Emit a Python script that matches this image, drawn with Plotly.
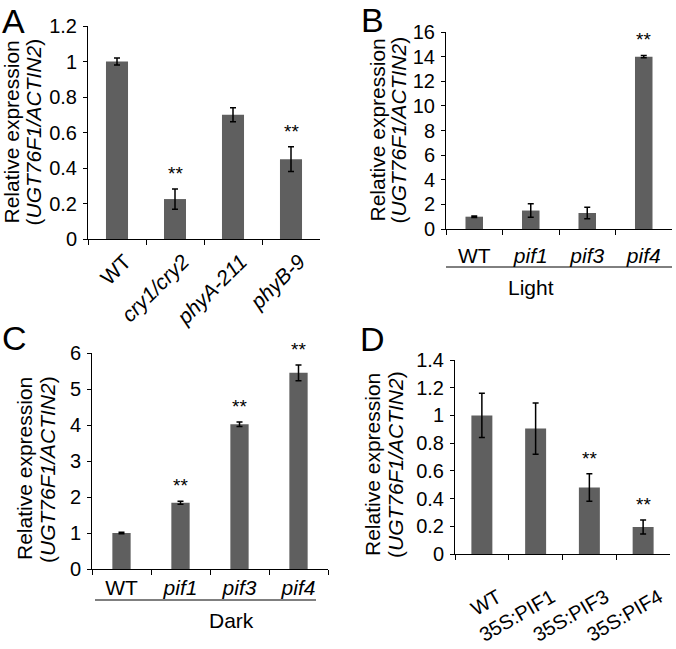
import plotly.graph_objects as go

# ---------------- data ----------------
A_cats = ["WT", "cry1/cry2", "phyA-211", "phyB-9"]
A_italic = [False, True, True, True]
A_vals = [1.0, 0.225, 0.70, 0.45]
A_err = [0.02, 0.057, 0.04, 0.07]
A_sig = ["", "**", "", "**"]

B_cats = ["WT", "pif1", "pif3", "pif4"]
B_italic = [False, True, True, True]
B_vals = [1.0, 1.5, 1.3, 14.0]
B_err = [0.06, 0.55, 0.47, 0.1]
B_sig = ["", "", "", "**"]

C_cats = ["WT", "pif1", "pif3", "pif4"]
C_italic = [False, True, True, True]
C_vals = [1.0, 1.84, 4.02, 5.45]
C_err = [0.02, 0.04, 0.06, 0.22]
C_sig = ["", "**", "**", "**"]

D_cats = ["WT", "35S:PIF1", "35S:PIF3", "35S:PIF4"]
D_italic = [False, False, False, False]
D_vals = [1.0, 0.905, 0.48, 0.195]
D_err = [0.16, 0.185, 0.10, 0.05]
D_sig = ["", "", "**", "**"]

FONT = "Liberation Sans, Arial, sans-serif"
BAR = "#5f5f5f"
W, H = 676, 649

def px(x):
    return x / W

def py(y):
    return 1 - y / H

panels = [
    dict(cats=A_cats, it=A_italic, vals=A_vals, err=A_err, sig=A_sig,
         xd=(88, 320), yd=(26, 239), yr=1.2, dt=0.2, bw=0.38,
         t1=11, t2=33),
    dict(cats=B_cats, it=B_italic, vals=B_vals, err=B_err, sig=B_sig,
         xd=(446, 672), yd=(32, 229), yr=16, dt=2, bw=0.31,
         t1=377, t2=398),
    dict(cats=C_cats, it=C_italic, vals=C_vals, err=C_err, sig=C_sig,
         xd=(92, 328), yd=(353, 569), yr=6, dt=1, bw=0.31,
         t1=24, t2=47),
    dict(cats=D_cats, it=D_italic, vals=D_vals, err=D_err, sig=D_sig,
         xd=(455, 670), yd=(360, 554), yr=1.4, dt=0.2, bw=0.39,
         t1=372, t2=395),
]

fig = go.Figure()
annotations = []
shapes = []

for i, p in enumerate(panels):
    n = "" if i == 0 else str(i + 1)
    xa, ya = "x" + n, "y" + n
    fig.add_trace(go.Bar(
        x=p["cats"], y=p["vals"], width=p["bw"],
        marker=dict(color=BAR, line=dict(width=0)),
        error_y=dict(type="data", array=p["err"], visible=True,
                     color="black", thickness=1.5, width=3),
        xaxis=xa, yaxis=ya, showlegend=False,
    ))
    ticktext = [("<i>%s</i>" % c) if it else c for c, it in zip(p["cats"], p["it"])]
    xkw = dict(
        domain=[px(p["xd"][0]), px(p["xd"][1])], anchor=ya,
        type="category", range=[-0.5, 3.5],
        tickmode="array", tickvals=p["cats"], ticktext=ticktext,
        tickson="boundaries", ticks="outside", ticklen=5, tickwidth=1,
        tickcolor="black", showline=True, linecolor="black", linewidth=1,
        showgrid=False, zeroline=False, automargin=False,
        tickfont=dict(family=FONT, size=21, color="black"),
    )
    if i == 0:
        xkw.update(tickangle=-45, ticklabelstandoff=1, ticklabelshift=8)
    elif i == 3:
        xkw.update(tickangle=-30, ticklabelstandoff=23, ticklabelshift=16,
                   tickfont=dict(family=FONT, size=20, color="black"))
    elif i == 1:
        xkw.update(tickangle=0, ticklabelstandoff=8)
    else:
        xkw.update(tickangle=0, ticklabelstandoff=0)
    ykw = dict(
        domain=[py(p["yd"][1]), py(p["yd"][0])], anchor=xa,
        range=[0, p["yr"]], dtick=p["dt"], tick0=0,
        ticks="outside", ticklen=4, tickwidth=1, tickcolor="black",
        showline=True, linecolor="black", linewidth=1,
        showgrid=False, zeroline=False, automargin=False,
        tickfont=dict(family=FONT, size=20, color="black"),
        ticklabelstandoff=2,
    )
    fig.layout["xaxis" + n] = xkw
    fig.layout["yaxis" + n] = ykw

    for c, v, e, s in zip(p["cats"], p["vals"], p["err"], p["sig"]):
        if s:
            annotations.append(dict(
                x=c, y=v + e, xref=xa, yref=ya, text=s, showarrow=False,
                yanchor="bottom", yshift=3,
                font=dict(family=FONT, size=19, color="black")))

    yc = (p["yd"][0] + p["yd"][1]) / 2 + (0 if i < 2 else 8)
    for xc, txt in [(p["t1"], "Relative expression"),
                    (p["t2"], "(<i>UGT76F1/ACTIN2</i>)")]:
        annotations.append(dict(
            x=px(xc), y=py(yc), xref="paper", yref="paper", text=txt,
            textangle=-90, showarrow=False, xanchor="center", yanchor="middle",
            font=dict(family=FONT, size=21, color="black")))

for (L, xl, yl) in [("A", 0, 0), ("B", 359, -1), ("C", 0, 317), ("D", 358, 318)]:
    annotations.append(dict(
        x=px(xl), y=py(yl), xref="paper", yref="paper", text=L,
        showarrow=False, xanchor="left", yanchor="top",
        font=dict(family=FONT, size=34, color="black")))

annotations.append(dict(x=px(556), y=py(287), xref="paper", yref="paper",
                        text="Light", showarrow=False, yanchor="middle",
                        font=dict(family=FONT, size=21, color="black")))
annotations.append(dict(x=px(207), y=py(620), xref="paper", yref="paper",
                        text="Dark", showarrow=False, yanchor="middle",
                        font=dict(family=FONT, size=21, color="black")))
shapes.append(dict(type="line", xref="paper", yref="paper",
                   x0=px(446), x1=px(672), y0=py(267), y1=py(267),
                   line=dict(color="black", width=1)))
shapes.append(dict(type="line", xref="paper", yref="paper",
                   x0=px(95), x1=px(316), y0=py(600), y1=py(600),
                   line=dict(color="black", width=1)))

fig.update_layout(
    width=W, height=H, margin=dict(l=0, r=0, t=0, b=0, pad=0),
    paper_bgcolor="white", plot_bgcolor="white",
    bargap=0.6, annotations=annotations, shapes=shapes,
    font=dict(family=FONT, color="black"),
)

fig.write_html("out.html", config={"displayModeBar": False},
               post_script="document.body.style.margin='0';")
